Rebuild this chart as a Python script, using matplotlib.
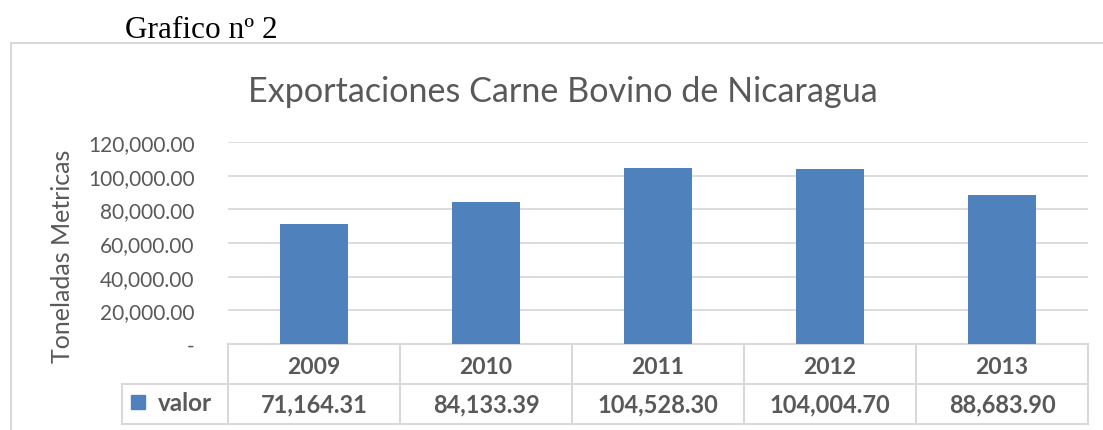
import matplotlib
matplotlib.use("Agg")
import matplotlib.pyplot as plt
from matplotlib.lines import Line2D
from matplotlib.patches import Rectangle
import matplotlib.transforms as mtransforms

# data
years = ["2009", "2010", "2011", "2012", "2013"]
valor = [71164.31, 84133.39, 104528.30, 104004.70, 88683.90]
yticks = [0, 20000, 40000, 60000, 80000, 100000, 120000]

W, H = 1103, 431
BAR = "#4f81bd"
GRID = "#d9d9d9"
TXT = "#595959"
FONT = "Lato"

fig = plt.figure(figsize=(W / 100, H / 100), dpi=100)


def fx(px):
    return px / W


def fy(py):
    return 1 - py / H


# plot area in pixels: x 228..1088, y 143..345
left, right, top, bottom = 228, 1088, 143, 345
ax = fig.add_axes([fx(left), fy(bottom), fx(right - left), (bottom - top) / H])

x = list(range(len(years)))
ax.bar(x, valor, width=0.4, color=BAR, zorder=3)
ax.set_xlim(-0.5, len(years) - 0.5)
ax.set_ylim(0, 120000)
ax.set_yticks(yticks)
ax.set_yticklabels(["-" if v == 0 else f"{v:,.2f}" for v in yticks])
ax.yaxis.grid(True, color=GRID, linewidth=1.3, zorder=0)
ax.set_xticks([])
for s in ax.spines.values():
    s.set_visible(False)
ax.tick_params(axis="y", length=0, pad=24, labelsize=15, labelcolor=TXT)
for lab in ax.get_yticklabels():
    lab.set_fontfamily(FONT)

# data table under the plot
row_h = 40 / (bottom - top)
trans = mtransforms.blended_transform_factory(ax.transData, ax.transAxes)
legend_x = -0.5 - (left - 122) / (right - left) * len(years)

lines = [
    ([-0.5, len(years) - 0.5], [0, 0]),
    ([legend_x, len(years) - 0.5], [-row_h, -row_h]),
    ([legend_x, len(years) - 0.5], [-2 * row_h, -2 * row_h]),
    ([legend_x, legend_x], [-row_h, -2 * row_h]),
]
for i in range(len(years) + 1):
    lines.append(([i - 0.5, i - 0.5], [0, -2 * row_h]))
for xs, ys in lines:
    ax.add_line(Line2D(xs, ys, transform=trans, color=GRID, linewidth=1.5,
                       clip_on=False, zorder=1))

for i, (yr, v) in enumerate(zip(years, valor)):
    ax.text(i, -0.5 * row_h - 0.01, yr, transform=trans, ha="center",
            va="center", fontsize=16.5, fontweight="bold", color=TXT,
            family=FONT)
    ax.text(i, -1.5 * row_h, f"{v:,.2f}", transform=trans, ha="center",
            va="center", fontsize=17, fontweight="bold", color=TXT, family=FONT)

# legend key in the table
fig.patches.append(Rectangle((fx(131), fy(410)), fx(14), 14 / H,
                             transform=fig.transFigure, color=BAR))
fig.text(fx(158), fy(404), "valor", ha="left", va="center", fontsize=17.5,
         fontweight="bold", color=TXT, family=FONT)

# chart frame (only top and left are visible)
fig.add_artist(Line2D([fx(11), fx(11)], [fy(44), 0], transform=fig.transFigure,
                      color=GRID, linewidth=1.5))
fig.add_artist(Line2D([fx(11), 1], [fy(44), fy(44)], transform=fig.transFigure,
                      color=GRID, linewidth=1.5))

fig.text(fx(563), fy(92), "Exportaciones Carne Bovino de Nicaragua",
         ha="center", va="center", fontsize=24.6, color=TXT, family=FONT)
fig.text(fx(63), fy(256), "Toneladas Metricas", rotation=90, ha="center",
         va="center", fontsize=18, color=TXT, family=FONT)
fig.text(fx(125), fy(38), "Grafico nº 2", ha="left", va="baseline",
         fontsize=22.5, color="black", family="Liberation Serif")

fig.savefig("out.png", dpi=100)
